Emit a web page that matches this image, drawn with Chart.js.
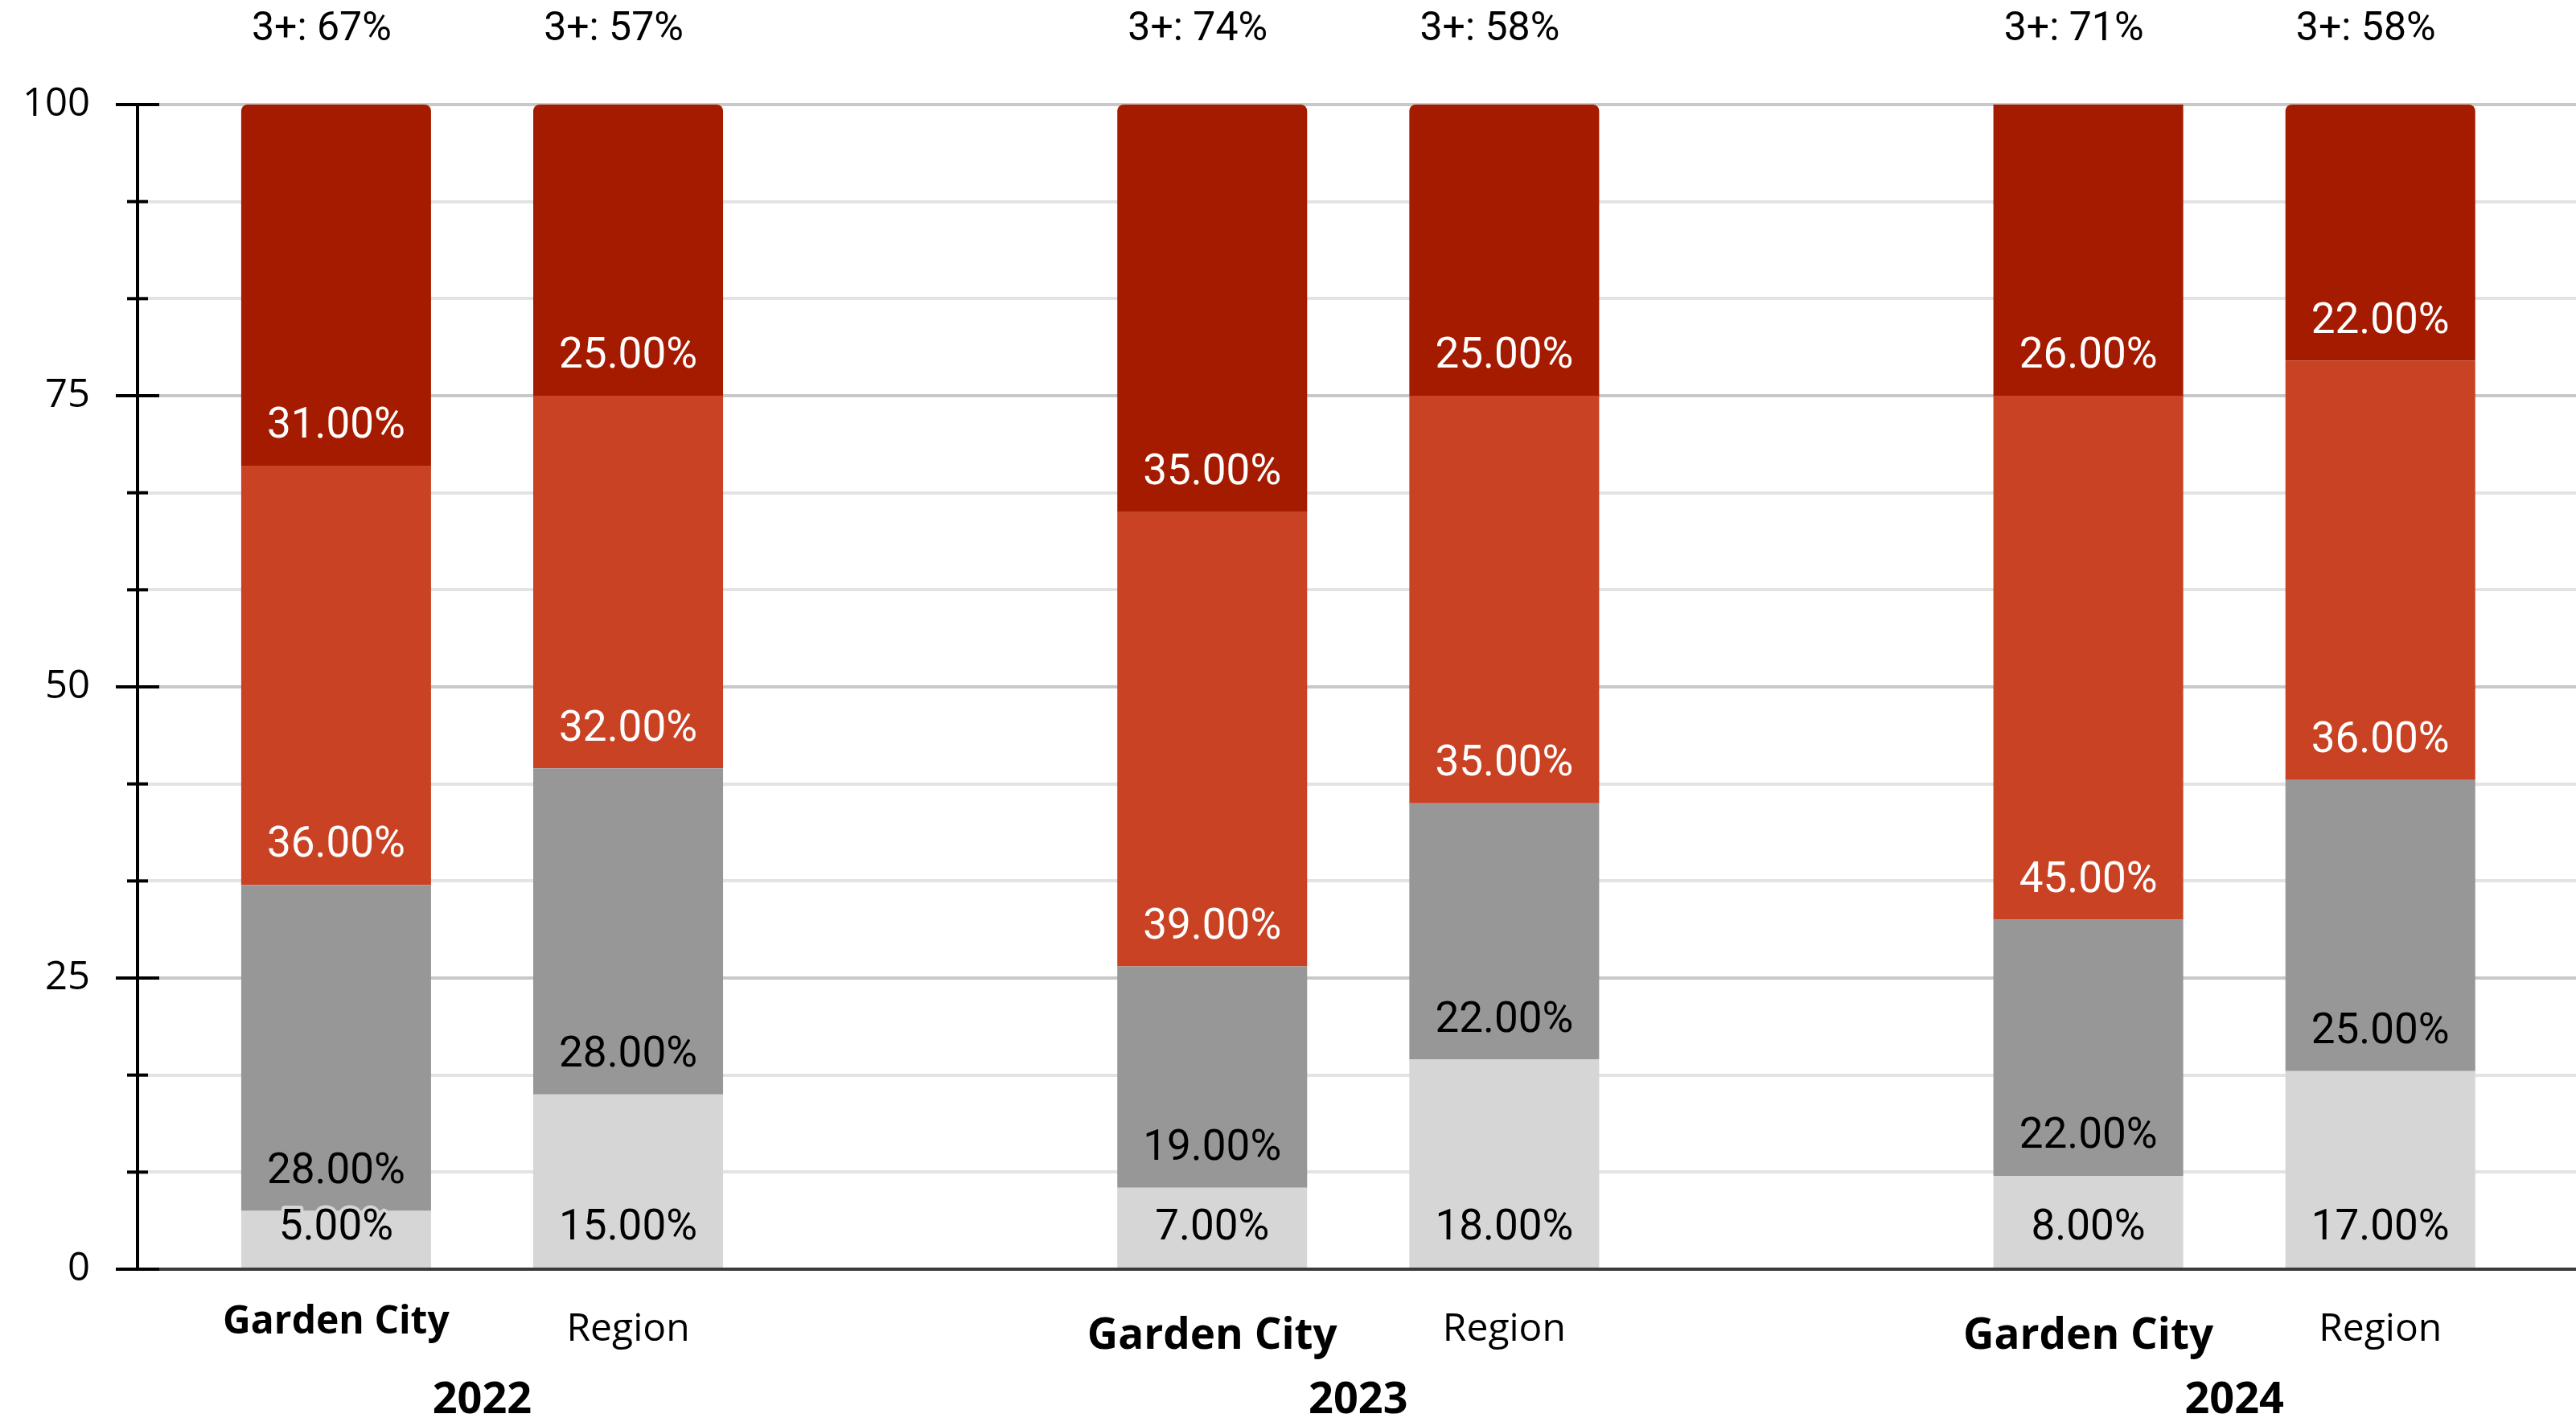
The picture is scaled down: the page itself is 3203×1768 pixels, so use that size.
<!DOCTYPE html>
<html>
<head>
<meta charset="utf-8">
<script src="https://cdn.jsdelivr.net/npm/chart.js@4.4.1/dist/chart.umd.min.js"></script>
<style>
  html, body { margin: 0; padding: 0; background: #fff; }
  #wrap { width: 3203px; height: 1768px; position: relative; }
</style>
</head>
<body>
<div id="wrap"><canvas id="myChart"></canvas></div>
<script>
// bars from left to right
var categories = ['Garden City', 'Region', 'Garden City', 'Region', 'Garden City', 'Region'];
// slot of each bar on the x axis (slots 2 and 5 stay empty between the years)
var slots = [0, 1, 3, 4, 6, 7];
var years = ['2022', '2023', '2024'];

// shares in %, bottom of the stack first
var level1 = [5, 15, 7, 18, 8, 17];
var level2 = [28, 28, 19, 22, 22, 25];
var level3 = [36, 32, 39, 35, 45, 36];
var level4 = [31, 25, 35, 25, 26, 22];

// "3+" share written above each bar
var threePlus = [67, 57, 74, 58, 71, 58];

// labelled y ticks, 2 unlabelled ticks between each pair
var yTicks = [0, 25, 50, 75, 100];

function points(values) {
    return values.map(function(v, i) { return {x: slots[i], y: v}; });
}

function yTickValues() {
    var out = [];
    for (var i = 0; i < yTicks.length; i++) {
        out.push(yTicks[i]);
        if (i < yTicks.length - 1) {
            var step = (yTicks[i + 1] - yTicks[i]) / 3;
            out.push(yTicks[i] + step, yTicks[i] + 2 * step);
        }
    }
    return out;
}

function isMajor(v) {
    return yTicks.indexOf(v) >= 0;
}

// value labels, 3+ labels, years and the axis tick marks
var overlay = {
    id: 'overlay',
    afterDatasetsDraw: function(chart) {
        var c = chart.ctx;
        var area = chart.chartArea;
        var x = chart.scales.x;
        c.save();
        c.textAlign = 'center';
        c.textBaseline = 'middle';
        c.lineJoin = 'round';

        c.font = '53px Roboto';
        chart.data.datasets.forEach(function(ds, d) {
            chart.getDatasetMeta(d).data.forEach(function(bar, i) {
                var txt = ds.data[i].y.toFixed(2) + '%';
                var ty = bar.base - 48;
                c.lineWidth = 8;
                c.strokeStyle = ds.backgroundColor;
                c.strokeText(txt, bar.x, ty);
                c.fillStyle = ds.labelColor;
                c.fillText(txt, bar.x, ty);
            });
        });

        // the 3+ labels sit a little left of the bar centres
        c.font = '50px Roboto';
        c.fillStyle = '#000';
        chart.getDatasetMeta(0).data.forEach(function(bar, i) {
            c.fillText('3+: ' + threePlus[i] + '%', bar.x - 18, area.top - 93);
        });

        c.font = 'bold 54px "Open Sans"';
        years.forEach(function(yr, g) {
            var mid = (x.getPixelForValue(slots[2 * g]) + x.getPixelForValue(slots[2 * g + 1])) / 2;
            c.fillText(yr, mid, area.bottom + 164);
        });
        c.restore();
    },
    afterDraw: function(chart) {
        var c = chart.ctx;
        var y = chart.scales.y;
        var left = chart.chartArea.left;
        c.save();
        c.strokeStyle = '#000';
        c.lineWidth = 4;
        y.ticks.forEach(function(t) {
            var py = y.getPixelForValue(t.value);
            var half = isMajor(t.value) ? 27 : 13;
            c.beginPath();
            c.moveTo(left - half, py);
            c.lineTo(left + half, py);
            c.stroke();
        });
        c.restore();
    }
};

var ctx = document.getElementById('myChart').getContext('2d');
var chart = new Chart(ctx, {
    type: 'bar',
    data: {
        datasets: [
            {label: '1', data: points(level1), backgroundColor: '#d6d6d6', labelColor: '#000'},
            {label: '2', data: points(level2), backgroundColor: '#979797', labelColor: '#000'},
            {label: '3', data: points(level3), backgroundColor: '#c94223', labelColor: '#fff'},
            {label: '4', data: points(level4), backgroundColor: '#a51b00', labelColor: '#fff'}
        ]
    },
    options: {
        responsive: true,
        maintainAspectRatio: false,
        animation: false,
        layout: {padding: {top: 130, left: 0, right: 0, bottom: 0}},
        plugins: {
            legend: {display: false},
            tooltip: {enabled: false}
        },
        datasets: {
            bar: {barPercentage: 0.65, categoryPercentage: 1, borderRadius: 8, clip: 0}
        },
        scales: {
            x: {
                type: 'linear',
                stacked: true,
                min: -0.68,
                max: 7.67,
                offset: false,
                afterBuildTicks: function(axis) {
                    axis.ticks = slots.map(function(v) { return {value: v}; });
                },
                afterFit: function(axis) { axis.height = 190; },
                grid: {display: true, drawOnChartArea: false, drawTicks: false},
                border: {display: true, color: '#3a3a3a', width: 4},
                ticks: {
                    autoSkip: false,
                    maxRotation: 0,
                    padding: 20,
                    color: '#000',
                    callback: function(v, i) { return categories[i]; },
                    font: function(c) {
                        if (categories[c.index] !== 'Garden City') {
                            return {family: 'Open Sans', size: 48, lineHeight: 2.3};
                        }
                        if (c.index === 0) {
                            return {family: 'Open Sans', weight: 'bold', size: 48, lineHeight: 1.94};
                        }
                        return {family: 'Open Sans', weight: 'bold', size: 53, lineHeight: 2.42};
                    }
                }
            },
            y: {
                stacked: true,
                min: 0,
                max: 100,
                afterBuildTicks: function(axis) {
                    axis.ticks = yTickValues().map(function(v) { return {value: v}; });
                },
                afterFit: function(axis) { axis.width = 171; },
                grid: {
                    drawTicks: false,
                    lineWidth: 4,
                    color: function(c) {
                        return c.tick && isMajor(c.tick.value) ? '#c8c8c8' : '#e3e3e3';
                    }
                },
                border: {display: true, color: '#000', width: 4},
                ticks: {
                    padding: 59,
                    color: '#000',
                    font: {family: 'Open Sans', size: 49},
                    callback: function(v) { return isMajor(v) ? String(v) : ''; }
                }
            }
        }
    },
    plugins: [overlay]
});
</script>
</body>
</html>
